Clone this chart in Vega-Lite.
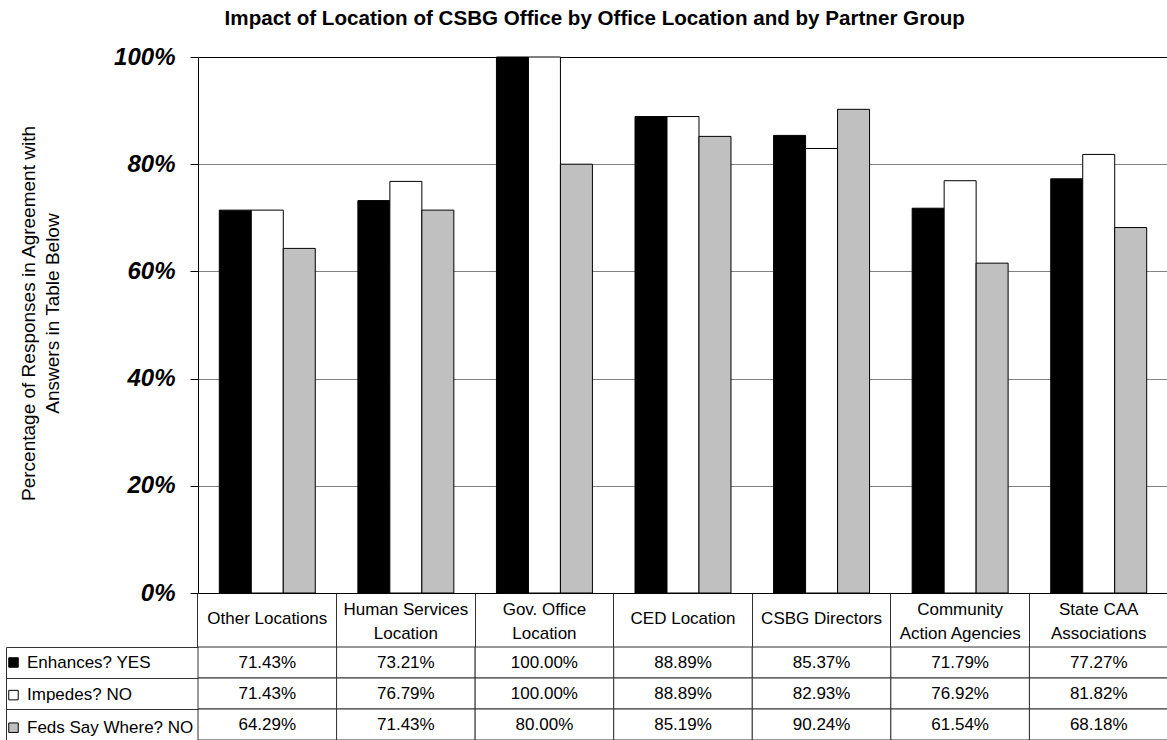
{
  "$schema": "https://vega.github.io/schema/vega-lite/v6.json",
  "padding": {"top": 9, "left": 5, "right": 0, "bottom": 0},
  "config": {
    "font": "Liberation Sans",
    "view": {"stroke": null},
    "axis": {"labelColor": "black", "titleColor": "black"}
  },
  "title": {
    "text": "Impact of Location of CSBG Office by Office Location and by Partner Group",
    "fontSize": 20.6,
    "fontWeight": "bold",
    "color": "black",
    "anchor": "middle",
    "dx": 8,
    "offset": 15
  },
  "datasets": {
    "bars": [
      {"category": "Other Locations", "series": "Enhances? YES", "value": 0.7143},
      {"category": "Other Locations", "series": "Impedes? NO", "value": 0.7143},
      {"category": "Other Locations", "series": "Feds Say Where? NO", "value": 0.6429},
      {"category": "Human Services Location", "series": "Enhances? YES", "value": 0.7321},
      {"category": "Human Services Location", "series": "Impedes? NO", "value": 0.7679},
      {"category": "Human Services Location", "series": "Feds Say Where? NO", "value": 0.7143},
      {"category": "Gov. Office Location", "series": "Enhances? YES", "value": 1.0},
      {"category": "Gov. Office Location", "series": "Impedes? NO", "value": 1.0},
      {"category": "Gov. Office Location", "series": "Feds Say Where? NO", "value": 0.8},
      {"category": "CED Location", "series": "Enhances? YES", "value": 0.8889},
      {"category": "CED Location", "series": "Impedes? NO", "value": 0.8889},
      {"category": "CED Location", "series": "Feds Say Where? NO", "value": 0.8519},
      {"category": "CSBG Directors", "series": "Enhances? YES", "value": 0.8537},
      {"category": "CSBG Directors", "series": "Impedes? NO", "value": 0.8293},
      {"category": "CSBG Directors", "series": "Feds Say Where? NO", "value": 0.9024},
      {"category": "Community Action Agencies", "series": "Enhances? YES", "value": 0.7179},
      {"category": "Community Action Agencies", "series": "Impedes? NO", "value": 0.7692},
      {"category": "Community Action Agencies", "series": "Feds Say Where? NO", "value": 0.6154},
      {"category": "State CAA Associations", "series": "Enhances? YES", "value": 0.7727},
      {"category": "State CAA Associations", "series": "Impedes? NO", "value": 0.8182},
      {"category": "State CAA Associations", "series": "Feds Say Where? NO", "value": 0.6818}
    ]
  },
  "spacing": 54,
  "bounds": "flush",
  "resolve": {"scale": {"fill": "independent"}, "legend": {"fill": "independent"}},
  "vconcat": [
    {
      "width": 970,
      "height": 536,
      "data": {"name": "bars"},
      "mark": {"type": "bar", "stroke": "black", "strokeWidth": 1},
      "encoding": {
        "x": {
          "field": "category",
          "type": "nominal",
          "sort": ["Other Locations", "Human Services Location", "Gov. Office Location", "CED Location", "CSBG Directors", "Community Action Agencies", "State CAA Associations"],
          "scale": {"paddingInner": 0, "paddingOuter": 0},
          "axis": {
            "title": null,
            "labelAngle": 0,
            "domainColor": "black",
            "ticks": true,
            "tickSize": 54,
            "tickColor": "#333333",
            "bandPosition": 0,
            "labelPadding": -29,
            "labelBaseline": {"condition": {"test": "datum.label == 'Human Services Location' || datum.label == 'Gov. Office Location' || datum.label == 'Community Action Agencies' || datum.label == 'State CAA Associations'", "value": "bottom"}, "value": "middle"},
            "labelFontSize": 17,
            "labelLineHeight": 24,
            "labelOverlap": false,
            "labelFlush": false,
            "labelExpr": "datum.label == 'Human Services Location' ? ['Human Services', 'Location'] : datum.label == 'Gov. Office Location' ? ['Gov. Office', 'Location'] : datum.label == 'Community Action Agencies' ? ['Community', 'Action Agencies'] : datum.label == 'State CAA Associations' ? ['State CAA', 'Associations'] : datum.label"
          }
        },
        "xOffset": {
          "field": "series",
          "type": "nominal",
          "sort": ["Enhances? YES", "Impedes? NO", "Feds Say Where? NO"],
          "scale": {"paddingInner": 0, "paddingOuter": 0.666}
        },
        "y": {
          "field": "value",
          "type": "quantitative",
          "scale": {"domain": [0, 1]},
          "axis": {
            "values": [0, 0.2, 0.4, 0.6, 0.8, 1],
            "format": ".0%",
            "grid": true,
            "gridColor": {"condition": {"test": "datum.value == 1", "value": "black"}, "value": "#808080"},
            "domainColor": "black",
            "tickColor": "black",
            "tickSize": 8,
            "labelFontSize": 24,
            "labelFontWeight": "bold",
            "labelFontStyle": "italic",
            "labelPadding": 15,
            "title": ["Percentage of Responses in Agreement with", "Answers in Table Below"],
            "titleFontSize": 19,
            "titleFontWeight": "normal",
            "titleLineHeight": 24,
            "titlePadding": 51,
            "titleY": 256
          }
        },
        "fill": {
          "field": "series",
          "type": "nominal",
          "scale": {"domain": ["Enhances? YES", "Impedes? NO", "Feds Say Where? NO"], "range": ["black", "white", "#c0c0c0"]},
          "legend": {
            "orient": "none",
            "legendX": -193,
            "legendY": 597,
            "title": null,
            "symbolType": "square",
            "symbolSize": 90,
            "symbolStrokeColor": "black",
            "symbolStrokeWidth": 1,
            "labelFontSize": 17,
            "labelColor": "black",
            "labelOffset": 5,
            "labelLimit": 300,
            "rowPadding": 14.6,
            "padding": 0
          }
        }
      }
    },
    {
      "width": 970,
      "height": 93,
      "data": {"name": "bars"},
      "encoding": {
        "x": {
          "field": "category",
          "type": "nominal",
          "sort": ["Other Locations", "Human Services Location", "Gov. Office Location", "CED Location", "CSBG Directors", "Community Action Agencies", "State CAA Associations"],
          "scale": {"paddingInner": 0, "paddingOuter": 0},
          "axis": null
        },
        "y": {
          "field": "series",
          "type": "nominal",
          "sort": ["Enhances? YES", "Impedes? NO", "Feds Say Where? NO"],
          "scale": {"paddingInner": 0, "paddingOuter": 0},
          "axis": {
            "orient": "left",
            "offset": 192,
            "title": null,
            "labels": false,
            "domain": true,
            "domainColor": "#333333",
            "ticks": true,
            "tickSize": -192,
            "tickColor": "#333333",
            "bandPosition": 0,
            "grid": false
          }
        }
      },
      "layer": [
        {"mark": {"type": "rect", "fill": "white", "stroke": "#333333", "strokeWidth": 1}},
        {
          "mark": {"type": "text", "fontSize": 17, "color": "black"},
          "encoding": {"text": {"field": "value", "type": "quantitative", "format": ".2%"}}
        }
      ]
    }
  ]
}
